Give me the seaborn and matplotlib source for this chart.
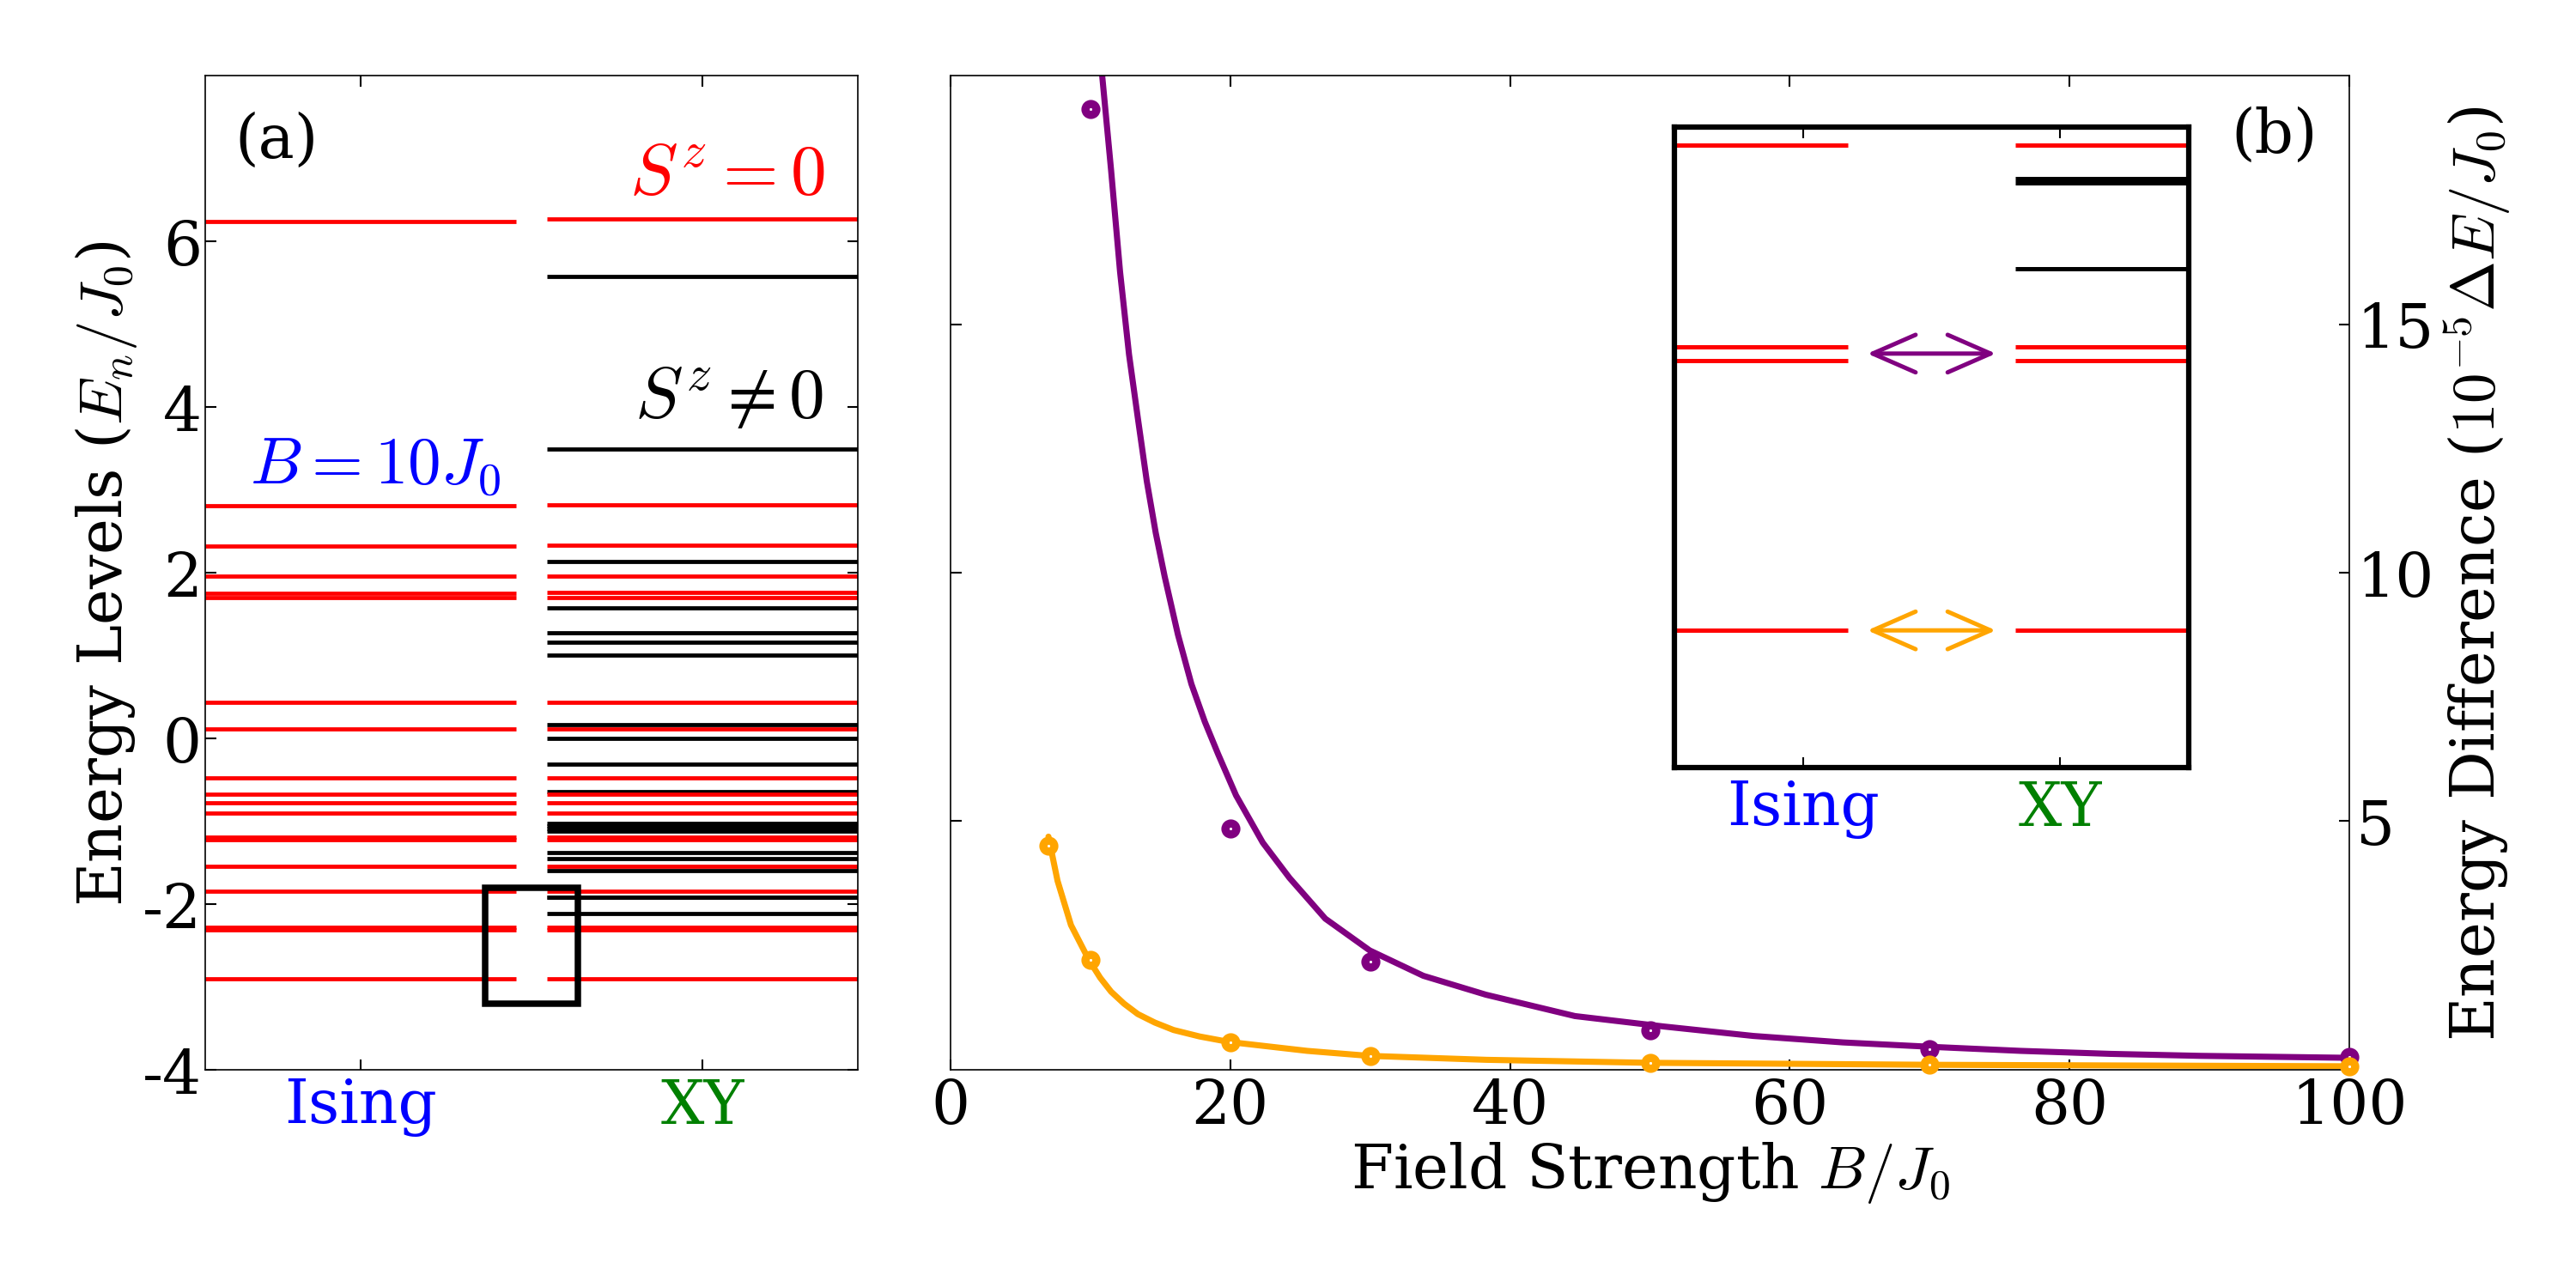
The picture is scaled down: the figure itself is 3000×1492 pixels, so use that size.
"""
plot.py
Energy levels of the Ising and XY models at B = 10 J0 (a) and the
splitting of the marked level pairs against field strength (b).
Writes out.png.
"""

import matplotlib
matplotlib.use("Agg")
import matplotlib.pyplot as plt
import pandas as pd
import seaborn as sns

# ── panel (a): levels in units of J0 ───────────────────────────────────────
ISING_SZ0 = [6.24, 2.81, 2.32, 1.96, 1.75, 1.70, 0.43, 0.11, -0.48, -0.67,
             -0.78, -0.90, -1.19, -1.22, -1.54, -1.84, -2.28, -2.31, -2.90]
XY_SZ0    = [6.27, 2.82, 2.33, 1.96, 1.76, 1.70, 0.43, 0.11, -0.48, -0.67,
             -0.78, -0.90, -1.19, -1.22, -1.54, -1.84, -2.28, -2.31, -2.90]
XY_SZNZ   = [5.58, 3.49, 2.13, 1.57, 1.27, 1.16, 1.01, 0.17, 0.00, -0.31,
             -0.645, -1.03, -1.06, -1.09, -1.12, -1.38, -1.45, -1.60,
             -1.913, -1.922, -2.11]
MODEL_LABELS = ["Ising", "XY"]
MODEL_COLORS = ["blue", "green"]
ZOOM_WINDOW  = (-3.2, -1.8)     # energy range shown in the inset

# ── panel (b): splitting (10^-5 J0) vs B/J0 ────────────────────────────────
B_PURPLE  = [10, 20, 30, 50, 70, 100]
DE_PURPLE = [19.32, 4.85, 2.17, 0.79, 0.42, 0.255]
B_ORANGE  = [7, 10, 20, 30, 50, 70, 100]
DE_ORANGE = [4.50, 2.21, 0.56, 0.28, 0.14, 0.11, 0.06]

# fitted curves
FIT_B_PURPLE  = [10.84, 11.48, 12.12, 12.76, 13.39, 14.03, 14.67, 15.31,
                 16.26, 17.22, 18.18, 19.13, 20.41, 22.32, 24.23, 26.79,
                 29.97, 33.8, 38.27, 44.64, 51.0, 57.4, 63.8, 70.2, 76.5,
                 82.9, 89.3, 100]
FIT_DE_PURPLE = [20.0, 18.09, 16.05, 14.39, 13.11, 11.84, 10.80, 9.92,
                 8.75, 7.76, 7.00, 6.35, 5.52, 4.57, 3.86, 3.04,
                 2.40, 1.89, 1.51, 1.08, 0.87, 0.68, 0.55, 0.46, 0.38,
                 0.32, 0.28, 0.24]
FIT_B_ORANGE  = [7.0, 7.65, 8.61, 9.89, 10.7, 11.48, 12.4, 13.39, 14.6,
                 15.94, 17.8, 19.9, 25.5, 29.9, 38.3, 49.9, 70, 100]
FIT_DE_ORANGE = [4.69, 3.80, 2.91, 2.21, 1.85, 1.57, 1.33, 1.12, 0.95,
                 0.80, 0.67, 0.56, 0.38, 0.28, 0.20, 0.14, 0.10, 0.07]

PURPLE = "purple"
ORANGE = "orange"

sns.set_style("ticks")
plt.rcParams["font.family"] = ["DejaVu Serif"]
plt.rcParams["mathtext.fontset"] = "cm"
plt.rcParams["axes.unicode_minus"] = False
plt.rcParams["font.size"] = 34
for key in ("text.color", "axes.labelcolor", "xtick.color", "ytick.color",
            "axes.edgecolor"):
    plt.rcParams[key] = "black"

FS = 34
TICK_KW = dict(direction="in", top=True, right=True, length=6, width=1, pad=4,
               labelsize=FS)


def draw_levels(ax, ising_end, xy_start, x_max, lw=2.3):
    ax.hlines(ISING_SZ0, 0, ising_end, colors="red", lw=lw)
    ax.hlines(XY_SZNZ, xy_start, x_max, colors="black", lw=lw)
    ax.hlines(XY_SZ0, xy_start, x_max, colors="red", lw=lw)


fig = plt.figure(figsize=(20, 9.953), dpi=150)

# ─────────────────────────────────────────────────────────────────────────────
# (a) level diagram
# ─────────────────────────────────────────────────────────────────────────────
ax1 = fig.add_axes([0.0797, 0.1648, 0.2533, 0.7756])
draw_levels(ax1, 1.0, 1.1, 2.1)
ax1.set_xlim(0, 2.1)
ax1.set_ylim(-4, 8)
ax1.set_yticks([-4, -2, 0, 2, 4, 6])
ax1.set_xticks([0.5, 1.6])
ax1.set_xticklabels(MODEL_LABELS)
for lab, c in zip(ax1.get_xticklabels(), MODEL_COLORS):
    lab.set_color(c)
ax1.tick_params(**TICK_KW)
ax1.tick_params(axis="y", pad=2)
ax1.set_ylabel("Energy Levels ($E_n/J_0$)", fontsize=FS, labelpad=2)

# box marking the zoomed window
ax1.add_patch(plt.Rectangle((0.9, ZOOM_WINDOW[0]), 0.3,
                            ZOOM_WINDOW[1] - ZOOM_WINDOW[0],
                            fill=False, ec="black", lw=3.6, zorder=5))

ytrans = ax1.get_yaxis_transform()
ax1.text(0.045, 0.965, "(a)", transform=ax1.transAxes, ha="left", va="top",
         fontsize=FS)
ax1.text(0.95, 6.58, r"$S^z=0$", color="red", ha="right", va="baseline",
         fontsize=40, transform=ytrans)
ax1.text(0.947, 3.89, r"$S^z\neq0$", color="black", ha="right",
         va="baseline", fontsize=40, transform=ytrans)
ax1.text(0.068, 3.08, r"$B=10J_0$", color="blue", ha="left", va="baseline",
         fontsize=37, transform=ytrans)

# ─────────────────────────────────────────────────────────────────────────────
# (b) splitting vs field
# ─────────────────────────────────────────────────────────────────────────────
ax2 = fig.add_axes([0.369, 0.1648, 0.543, 0.7756])

fit_p = pd.DataFrame({"B": FIT_B_PURPLE, "dE": FIT_DE_PURPLE})
fit_o = pd.DataFrame({"B": FIT_B_ORANGE, "dE": FIT_DE_ORANGE})
pts_p = pd.DataFrame({"B": B_PURPLE, "dE": DE_PURPLE})
pts_o = pd.DataFrame({"B": B_ORANGE, "dE": DE_ORANGE})

sns.lineplot(data=fit_p, x="B", y="dE", color=PURPLE, lw=3.4, ax=ax2)
sns.lineplot(data=fit_o, x="B", y="dE", color=ORANGE, lw=3.4, ax=ax2)
for pts, col in [(pts_p, PURPLE), (pts_o, ORANGE)]:
    sns.scatterplot(data=pts, x="B", y="dE", s=38, facecolor="white",
                    edgecolor=col, linewidth=4.5, zorder=5, clip_on=False,
                    ax=ax2)

ax2.set_xlim(0, 100)
ax2.set_ylim(0, 20)
ax2.set_xticks([0, 20, 40, 60, 80, 100])
ax2.set_yticks([5, 10, 15])
ax2.tick_params(**TICK_KW)
ax2.tick_params(axis="y", labelleft=False, labelright=True)
ax2.yaxis.set_label_position("right")
ax2.set_xlabel("Field Strength $B/J_0$", fontsize=FS, labelpad=2)
ax2.set_ylabel(r"Energy Difference ($10^{-5}\Delta E/J_0$)", fontsize=FS,
               labelpad=4)
ax2.text(0.977, 0.97, "(b)", transform=ax2.transAxes, ha="right", va="top",
         fontsize=FS)

# ─────────────────────────────────────────────────────────────────────────────
# inset: zoom of the boxed window
# ─────────────────────────────────────────────────────────────────────────────
ax3 = fig.add_axes([0.650, 0.4005, 0.1997, 0.4997])
draw_levels(ax3, 1.35, 2.65, 4.0, lw=2.4)
ax3.set_xlim(0, 4)
ax3.set_ylim(*ZOOM_WINDOW)
ax3.set_xticks([1, 3])
ax3.set_xticklabels(MODEL_LABELS)
for lab, c in zip(ax3.get_xticklabels(), MODEL_COLORS):
    lab.set_color(c)
ax3.set_yticks([])
ax3.tick_params(axis="x", direction="in", top=True, length=6, width=1,
                pad=6, labelsize=FS)
for sp in ax3.spines.values():
    sp.set_linewidth(3)
    sp.set_color("black")

for y, col in [((ISING_SZ0[16] + ISING_SZ0[17]) / 2, PURPLE),
               (ISING_SZ0[18], ORANGE)]:
    ax3.annotate("", xy=(2.5, y), xytext=(1.5, y),
                 arrowprops=dict(arrowstyle="<->,head_length=0.8,head_width=0.35",
                                 color=col, lw=2.4, mutation_scale=30,
                                 shrinkA=0, shrinkB=0))

fig.savefig("out.png", dpi=150)
plt.close(fig)
